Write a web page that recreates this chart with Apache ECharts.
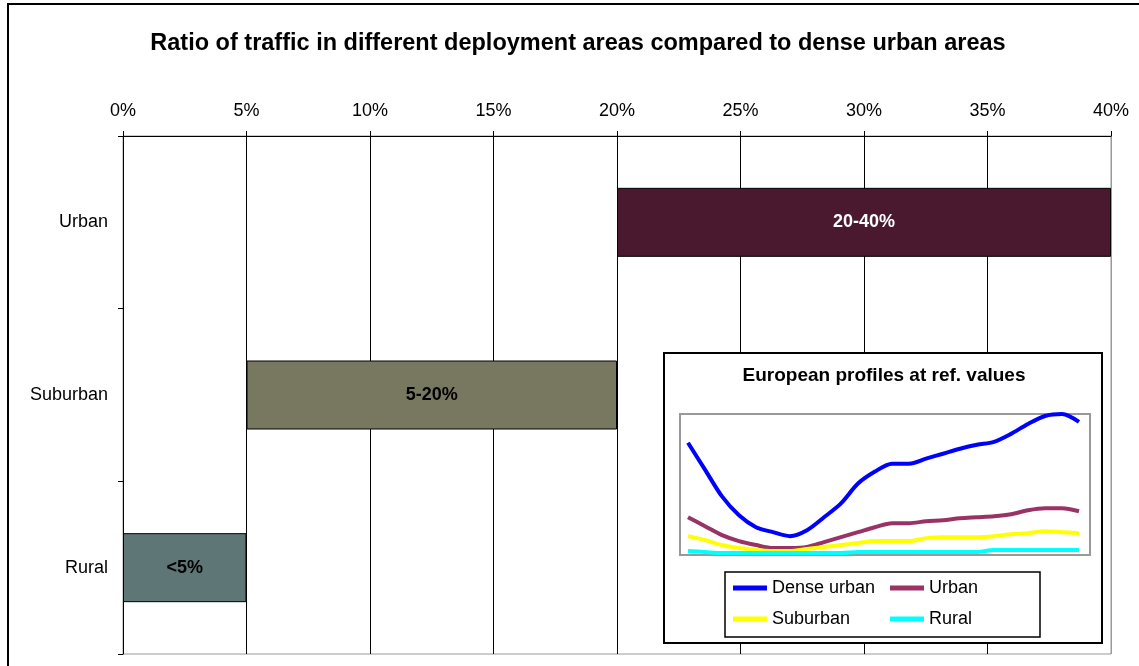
<!DOCTYPE html>
<html>
<head>
<meta charset="utf-8">
<script src="https://cdn.jsdelivr.net/npm/echarts@6/dist/echarts.min.js"></script>
<style>
  html, body { margin: 0; padding: 0; background: #fff; }
  #chart { width: 1139px; height: 666px; }
</style>
</head>
<body>
<div id="chart"></div>
<script>
// main chart data
const areas = ['Urban', 'Suburban', 'Rural']
const rangeLow = [20, 5, 0]
const rangeHigh = [40, 20, 5]
const rangeLabels = ['20-40%', '5-20%', '<5%']
const barColors = ['#4a1930', '#787760', '#5f7676']
const labelColors = ['#fff', '#000', '#000']

// inset: daily profiles (relative units), 24 samples
const hours = ['0', '1', '2', '3', '4', '5', '6', '7', '8', '9', '10', '11',
  '12', '13', '14', '15', '16', '17', '18', '19', '20', '21', '22', '23']
const denseUrban = [113, 86, 59, 40, 28, 23, 19, 25, 38, 52, 72, 84,
  92, 92, 97, 102, 107, 111, 114, 122, 132, 140, 142, 134]
const urban = [38, 29, 20, 14, 10, 7, 7, 8, 13, 18, 23, 28,
  32, 32, 34, 35, 37, 38, 39, 41, 45, 47, 47, 44]
const suburban = [19, 15, 10, 7, 5, 4, 4, 6, 8, 10, 12, 14,
  14, 14, 17, 18, 18, 18, 19, 21, 22, 24, 23, 22]
const rural = [4, 3, 2, 2, 2, 2, 2, 2, 2, 2, 3, 3,
  3, 3, 3, 3, 3, 3, 5, 5, 5, 5, 5, 5]

const font = 'Arial, "Liberation Sans", sans-serif'

const chart = echarts.init(document.getElementById('chart'))

function profile(name, data, color) {
  return {
    name: name,
    type: 'line',
    xAxisIndex: 1,
    yAxisIndex: 1,
    data: data,
    symbol: 'none',
    smooth: 0.3,
    z: 12,
    lineStyle: { color: color, width: 4 },
    itemStyle: { color: color }
  }
}

// legend laid out as two columns
const legendBase = {
  orient: 'vertical',
  padding: 0,
  icon: 'rect',
  itemWidth: 34,
  itemHeight: 5,
  itemGap: 13,
  z: 12,
  textStyle: { fontFamily: font, fontSize: 18, color: '#000' }
}

chart.setOption({
  animation: false,
  graphic: [
    { type: 'rect', z: 1, shape: { x: 8, y: 4, width: 1140, height: 680 },
      style: { fill: 'none', stroke: '#000', lineWidth: 2 } },
    { type: 'text', z: 1, x: 578, y: 44,
      style: { text: 'Ratio of traffic in different deployment areas compared to dense urban areas',
        font: 'bold 23.5px ' + font, fill: '#000', textAlign: 'center', textVerticalAlign: 'middle' } },
    { type: 'rect', z: 5, shape: { x: 664, y: 353, width: 438, height: 290 },
      style: { fill: '#fff', stroke: '#000', lineWidth: 2 } },
    { type: 'text', z: 6, x: 884, y: 376,
      style: { text: 'European profiles at ref. values',
        font: 'bold 19px ' + font, fill: '#000', textAlign: 'center', textVerticalAlign: 'middle' } },
    { type: 'rect', z: 6, shape: { x: 680, y: 414, width: 410, height: 141 },
      style: { fill: 'none', stroke: '#999', lineWidth: 2 } },
    { type: 'rect', z: 11, shape: { x: 725, y: 572, width: 315, height: 65 },
      style: { fill: '#fff', stroke: '#000', lineWidth: 1.5 } }
  ],
  legend: [
    Object.assign({ left: 733, top: 579, data: ['Dense urban', 'Suburban'] }, legendBase),
    Object.assign({ left: 890, top: 579, data: ['Urban', 'Rural'] }, legendBase)
  ],
  grid: [
    { left: 123, top: 136, width: 988, height: 518, show: true,
      borderColor: '#999', borderWidth: 1, backgroundColor: 'transparent' },
    { left: 688, top: 414, width: 391, height: 141, z: 10 }
  ],
  xAxis: [
    {
      type: 'value', gridIndex: 0, position: 'top', min: 0, max: 40, interval: 5,
      axisLine: { show: true, lineStyle: { color: '#000', width: 1 } },
      axisTick: { show: true, length: 5, lineStyle: { color: '#000' } },
      axisLabel: { formatter: '{value}%', fontFamily: font, fontSize: 18, color: '#000', margin: 16 },
      splitLine: { show: true, lineStyle: { width: 1,
        color: ['#000', '#000', '#000', '#000', '#000', '#000', '#000', '#000', '#999'] } }
    },
    {
      type: 'category', gridIndex: 1, data: hours, boundaryGap: false, show: false
    }
  ],
  yAxis: [
    {
      type: 'category', gridIndex: 0, data: areas, inverse: true,
      axisLine: { show: true, lineStyle: { color: '#000', width: 1 } },
      axisTick: { show: true, length: 5, lineStyle: { color: '#000' } },
      axisLabel: { fontFamily: font, fontSize: 18, color: '#000', margin: 15 },
      splitLine: { show: false }
    },
    {
      type: 'value', gridIndex: 1, min: 0, max: 142, show: false, splitLine: { show: false }
    }
  ],
  series: [
    {
      name: 'base', type: 'bar', stack: 'range', barWidth: 69, silent: true,
      itemStyle: { color: 'transparent' },
      data: rangeLow
    },
    {
      name: 'range', type: 'bar', stack: 'range', barWidth: 69,
      data: rangeHigh.map((v, i) => ({
        value: v - rangeLow[i],
        itemStyle: { color: barColors[i], borderColor: '#000', borderWidth: 1 },
        label: { show: true, formatter: rangeLabels[i], color: labelColors[i],
          fontFamily: font, fontSize: 18, fontWeight: 'bold' }
      }))
    },
    profile('Dense urban', denseUrban, '#0000ff'),
    profile('Urban', urban, '#993366'),
    profile('Suburban', suburban, '#ffff00'),
    profile('Rural', rural, '#00ffff')
  ]
})
</script>
</body>
</html>
